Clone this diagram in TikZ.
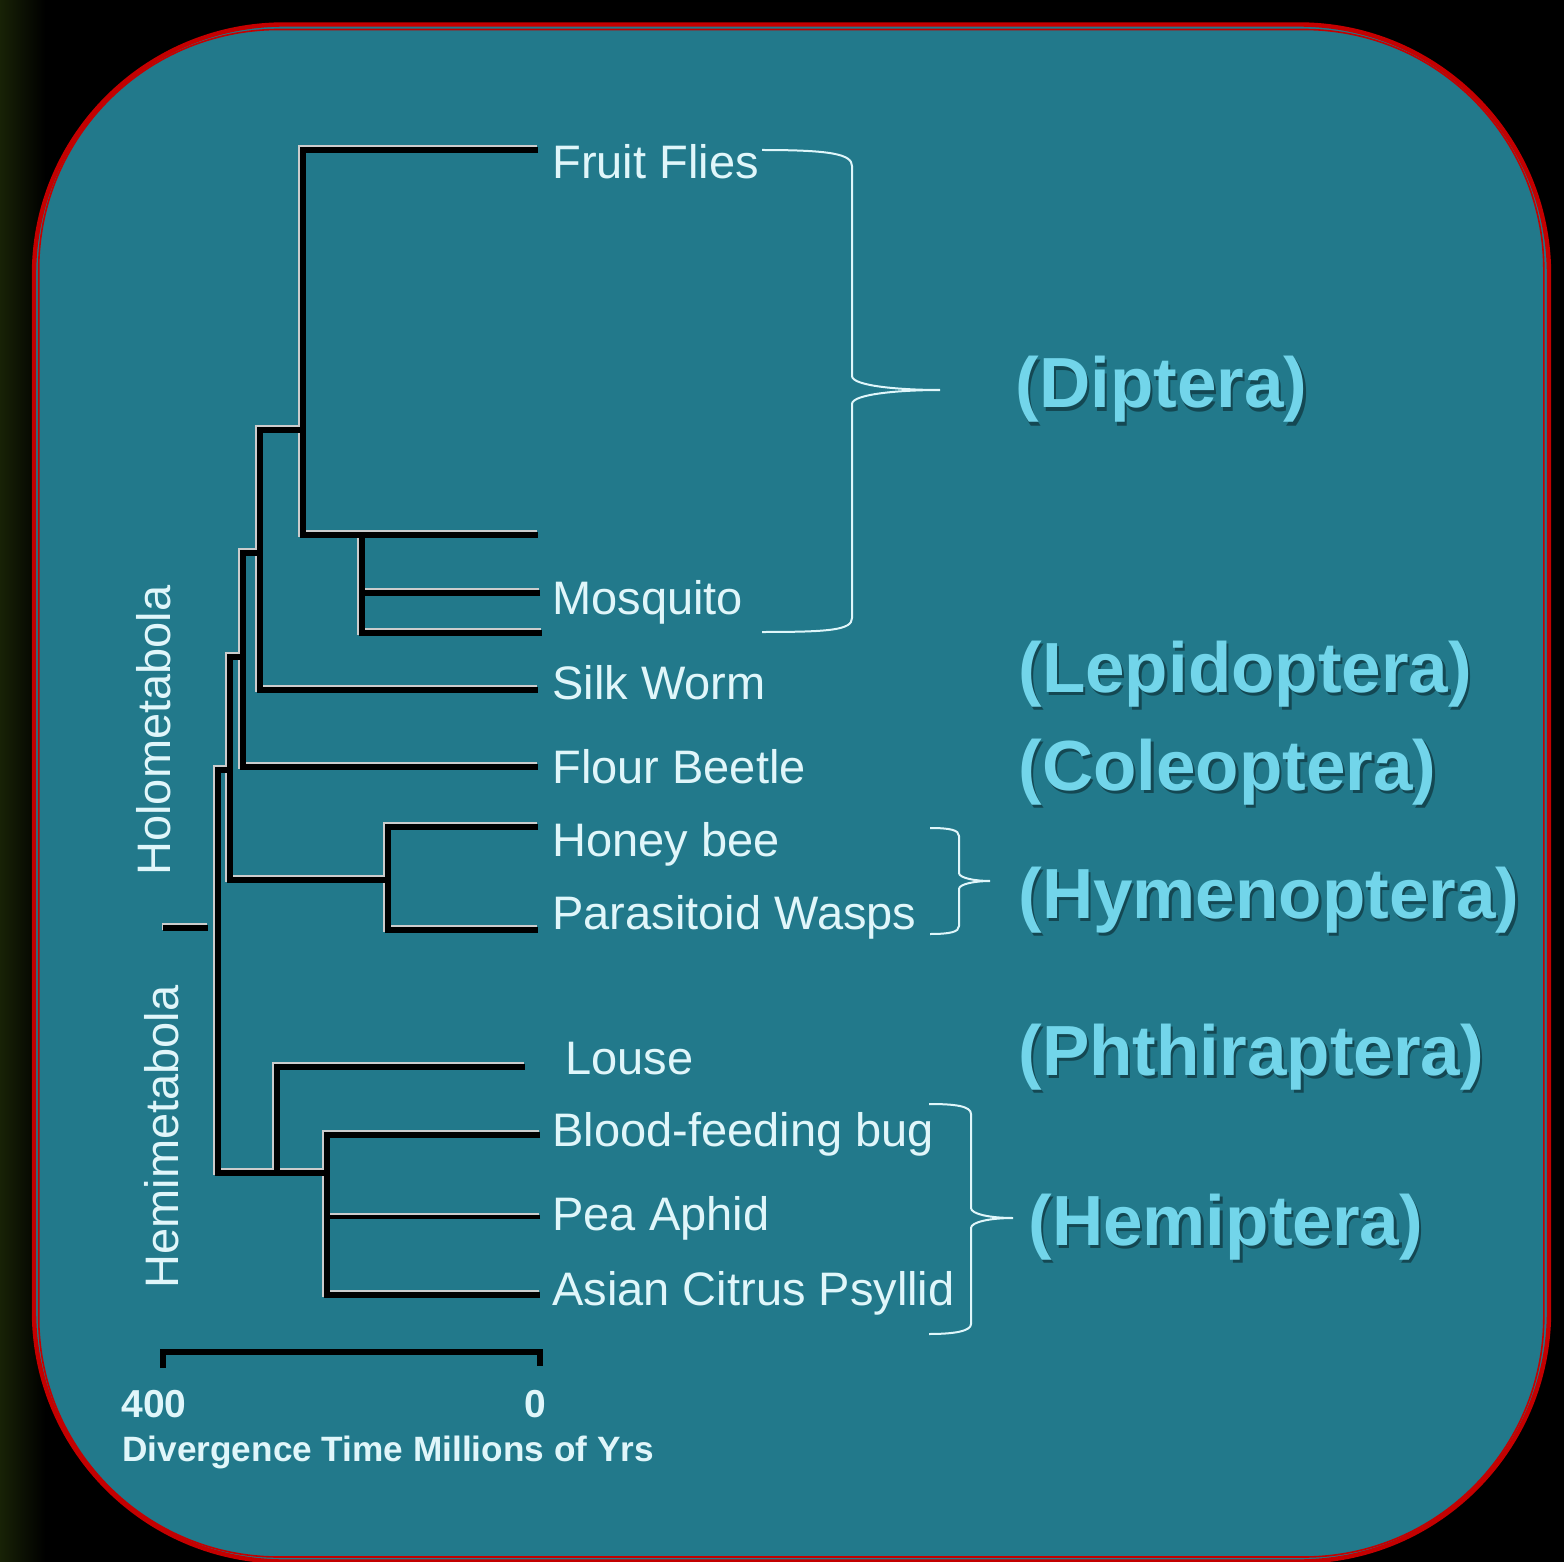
\documentclass[tikz,border=0pt]{standalone}
\usepackage{fontspec}
\setmainfont{Liberation Sans}
\definecolor{tealbg}{RGB}{34,121,139}
\definecolor{sptext}{RGB}{224,246,250}
\definecolor{ordtext}{RGB}{114,213,234}
\definecolor{frame}{RGB}{196,0,0}
\definecolor{greenish}{RGB}{24,34,6}
\begin{document}
\begin{tikzpicture}[x=0.5pt,y=-0.5pt,
  halo/.style={line width=3.4pt, draw=gray!40!white, transform canvas={shift={(-0.6pt,0.6pt)}}},
  br/.style={line width=2.8pt, draw=black},
  brthin/.style={line width=1.8pt, draw=black},
  brc/.style={line width=1pt, draw=sptext},
  sp/.style={anchor=base west, inner sep=0pt, text=sptext, font=\fontsize{23.5pt}{28pt}\selectfont},
  ordlab/.style={anchor=base west, inner sep=0pt, text=ordtext, font=\fontsize{35.5pt}{40pt}\selectfont\bfseries},
  ordsh/.style={ordlab, text=black, opacity=0.4, xshift=1.2pt, yshift=-1.5pt},
  scl/.style={anchor=base west, inner sep=0pt, text=sptext, font=\fontsize{17.6pt}{20pt}\selectfont\bfseries}
]
\useasboundingbox (0,0) rectangle (1564,1562);
% background
\fill[black] (0,0) rectangle (1564,1562);
\shade[left color=greenish, right color=black] (0,0) rectangle (45,1562);
% panel
\fill[tealbg, rounded corners=125pt] (34,24.5) rectangle (1549,1561.5);
\draw[frame, line width=2.2pt, rounded corners=125pt] (34,24.5) rectangle (1549,1561.5);
\draw[frame, line width=0.8pt, rounded corners=120pt] (38.7,29.5) rectangle (1543.8,1557);

% tree coordinates
\coordinate (A) at (303,430);
\coordinate (ffT) at (538,150);
\coordinate (t2T) at (538,535);
\coordinate (M) at (362,535);
\coordinate (mosT) at (540,593);
\coordinate (m2T) at (542,633);
\coordinate (B) at (260,553);
\coordinate (swT) at (538,690);
\coordinate (C) at (243,657);
\coordinate (fbT) at (538,767);
\coordinate (D) at (230,770);
\coordinate (H) at (388,880);
\coordinate (hbT) at (538,827);
\coordinate (pwT) at (538,930);
\coordinate (R) at (218,928);
\coordinate (L) at (277,1173);
\coordinate (HM) at (327,1173);
\coordinate (louT) at (525,1067);
\coordinate (bbT) at (540,1135);
\coordinate (acT) at (540,1295);
\coordinate (paT) at (540,1217);
\coordinate (rootS) at (163,928);
\coordinate (rootE) at (208,928);
\coordinate (sL) at (163,1352);
\coordinate (sR) at (540,1352);

% halos
\begin{scope}
\draw[halo] (ffT) -| (A) |- (t2T);
\draw[halo] (mosT) -| (M) |- (m2T);
\draw[halo] (A) -| (B) |- (swT);
\draw[halo] (B) -| (C) |- (fbT);
\draw[halo] (C) -| (D) |- (H);
\draw[halo] (hbT) -| (H) |- (pwT);
\draw[halo] (D) -| (R) |- (HM);
\draw[halo] (L) |- (louT);
\draw[halo] (bbT) -| (HM) |- (acT);
\draw[halo, line width=2.4pt] (paT) -- (paT -| HM);
\draw[halo] (rootS) -- (rootE);
\end{scope}
% branches
\draw[br] (ffT) -| (A) |- (t2T);
\draw[br] (mosT) -| (M) |- (m2T);
\draw[br] (A) -| (B) |- (swT);
\draw[br] (B) -| (C) |- (fbT);
\draw[br] (C) -| (D) |- (H);
\draw[br] (hbT) -| (H) |- (pwT);
\draw[br] (D) -| (R) |- (HM);
\draw[br] (L) |- (louT);
\draw[br] (bbT) -| (HM) |- (acT);
\draw[brthin] (paT) -- (paT -| HM);
\draw[br] (rootS) -- (rootE);
% scale bar
\draw[br] ([yshift=-8pt]sL) -- (sL) -- (sR) -- ([yshift=-7pt]sR);

% species labels
\node[sp] (ff) at (552,179) {Fruit Flies};
\node[sp] (mos) at (552,614) {Mosquito};
\node[sp] (sw) at (552,699) {Silk Worm};
\node[sp] (fb) at (552,783) {Flour Beetle};
\node[sp] (hb) at (552,856) {Honey bee};
\node[sp] (pw) at (552,929) {Parasitoid Wasps};
\node[sp] (lou) at (565,1074) {Louse};
\node[sp] (bb) at (552,1146) {Blood-feeding bug};
\node[sp] (pa) at (552,1230) {Pea Aphid};
\node[sp] (ac) at (552,1305) {Asian Citrus Psyllid};

% rotated group labels
\node[sp, rotate=90] (holo) at (170,876) {Holometabola};
\node[sp, rotate=90] (hemi) at (178,1289) {Hemimetabola};

% braces
\draw[brc] (762,150) .. controls (830,150) and (852,154) .. (852,166) -- (852,376)
  .. controls (852,386) and (900,390) .. (940,390)
  .. controls (900,390) and (852,394) .. (852,404) -- (852,618)
  .. controls (852,630) and (830,632) .. (762,632);
\draw[brc] (930,828) .. controls (950,828) and (959,830) .. (959,836) -- (959,873)
  .. controls (959,878) and (975,881) .. (990,881)
  .. controls (975,881) and (959,884) .. (959,889) -- (959,926)
  .. controls (959,932) and (950,934) .. (930,934);
\draw[brc] (929,1104) .. controls (955,1104) and (971,1106) .. (971,1114) -- (971,1208)
  .. controls (971,1214) and (990,1218) .. (1013,1218)
  .. controls (990,1218) and (971,1222) .. (971,1228) -- (971,1324)
  .. controls (971,1331) and (955,1334) .. (929,1334);

% order labels (shadow + text)
\node[ordsh] (dipS) at (1015,408) {(Diptera)};
\node[ordlab] (dip) at (1015,408) {(Diptera)};
\node[ordsh] (lepS) at (1018,692) {(Lepidoptera)};
\node[ordlab] (lep) at (1018,692) {(Lepidoptera)};
\node[ordsh] (colS) at (1018,790) {(Coleoptera)};
\node[ordlab] (col) at (1018,790) {(Coleoptera)};
\node[ordsh] (hymS) at (1018,918) {(Hymenoptera)};
\node[ordlab] (hym) at (1018,918) {(Hymenoptera)};
\node[ordsh] (phtS) at (1018,1075) {(Phthiraptera)};
\node[ordlab] (pht) at (1018,1075) {(Phthiraptera)};
\node[ordsh] (hemS) at (1028,1245) {(Hemiptera)};
\node[ordlab] (hemo) at (1028,1245) {(Hemiptera)};

% scale labels
\node[scl, font=\fontsize{19.5pt}{22pt}\selectfont\bfseries] (s400lab) at (121,1417) {400};
\node[scl, font=\fontsize{19.5pt}{22pt}\selectfont\bfseries] (s0lab) at (524,1417) {0};
\node[scl] (axlab) at (122,1461) {Divergence Time Millions of Yrs};
\end{tikzpicture}
\end{document}
